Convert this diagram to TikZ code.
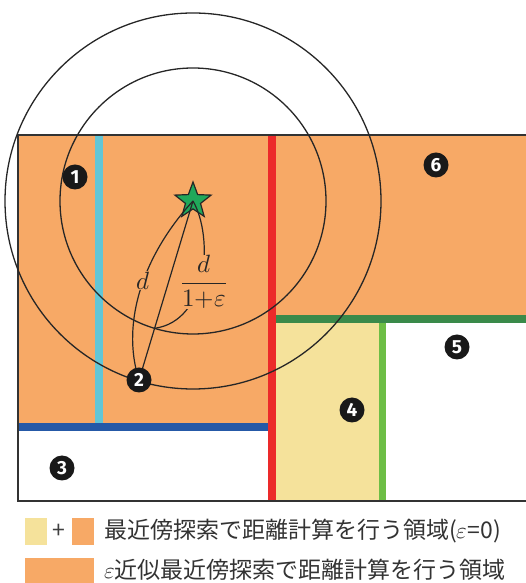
\documentclass[tikz,border=0pt]{standalone}
\usepackage{amsmath,xcolor}
\usepackage{fontspec}
\usepackage{unicode-math}
\setmathfont{Latin Modern Math}
\newfontfamily\jpfont{Noto Sans CJK JP}
\newfontfamily\numfont{Fira Sans}
\usepackage{tikz}
\usetikzlibrary{positioning,shapes.geometric,calc}
\definecolor{regorange}{RGB}{247,169,102}
\definecolor{regyellow}{RGB}{245,226,155}
\definecolor{redline}{RGB}{236,42,42}
\definecolor{cyanline}{RGB}{98,198,214}
\definecolor{blueline}{RGB}{37,89,167}
\definecolor{dkgreen}{RGB}{58,138,74}
\definecolor{ltgreen}{RGB}{109,190,69}
\definecolor{stargreen}{RGB}{32,168,90}

\begin{document}
\begin{tikzpicture}[x=1pt, y=1pt,
  spot/.style={circle, fill=black!90, text=white, minimum size=25pt, inner sep=0pt,
    font=\numfont\bfseries\fontsize{19}{19}\selectfont},
  wall/.style={line width=8pt},
  ring/.style={line width=1.3pt, black!85},
  link/.style={line width=1.2pt, black!85},
  lab/.style={fill=regorange, inner sep=0.5pt, font=\fontsize{25}{30}\selectfont},
  key/.style={inner sep=0pt, minimum height=27pt},
  leg/.style={anchor=west, inner sep=0pt, text=black!80, font=\jpfont\fontsize{23}{26}\selectfont}]
\useasboundingbox (0,0) rectangle (526,583);
% regions
\fill[regorange] (18,448) -| (526,264) -| (272,155) -| cycle;
\fill[regyellow] (272,82) rectangle (382,264);
% splitting planes
\draw[wall, cyanline] (99,448) -- (99,155);
\draw[wall, blueline] (18,155.5) -- (268,155.5);
\draw[wall, dkgreen] (276,264) -- (526,264);
\draw[wall, ltgreen, line width=7pt] (382,82) -- (382,260);
\draw[wall, redline] (272,82) -- (272,448);
\draw[line width=1.2pt, black!80] (526,448) -- (18,448) -- (18,82) -- (526,82);
% query and radii
\coordinate (q) at (193,382);
\coordinate (c2) at (139,203);
\coordinate (m) at ($(q)!133pt!(c2)$);
\draw[ring] (q) circle[radius=133pt];
\draw[ring] (q) circle[radius=188pt];
\node[star, star points=5, star point ratio=2.4, fill=stargreen, draw=black!85, line width=1.2pt,
  minimum size=38pt, inner sep=0pt] (query) at (q) {};
\draw[link] (query.center) -- (c2);
\draw[link] (query.center) .. controls (145,330) and (120,262) .. node[lab, pos=0.46]{$d$} (c2);
\draw[link] (query.center) .. controls (214,345) and (208,262) .. node[lab, pos=0.54, xshift=4pt]{$\dfrac{d}{1{+}\varepsilon}$} (m);
% cells
\node[spot] (n1) at (75,406) {1};
\node[spot] (n2) at (c2) {2};
\node[spot] (n3) at (62,115) {3};
\node[spot] (n4) at (352,173) {4};
\node[spot] (n5) at (457,236) {5};
\node[spot] (n6) at (436,418) {6};
% legend
\node[key, fill=regyellow, minimum width=22pt] (ky) at (36,51.5) {};
\node[right=5pt of ky, inner sep=0pt, text=black!75, font=\jpfont\fontsize{23}{26}\selectfont] (plus) {+};
\node[key, fill=regorange, minimum width=22pt] (ko) at (83,51.5) {};
\node[leg] (t1) at (104,51.5) {最近傍探索で距離計算を行う領域($\varepsilon$=0)};
\node[key, fill=regorange, minimum width=69pt, minimum height=25pt] (kall) at (59.5,12.5) {};
\node[leg] (t2) at (104,13) {$\varepsilon$近似最近傍探索で距離計算を行う領域};
\end{tikzpicture}
\end{document}
